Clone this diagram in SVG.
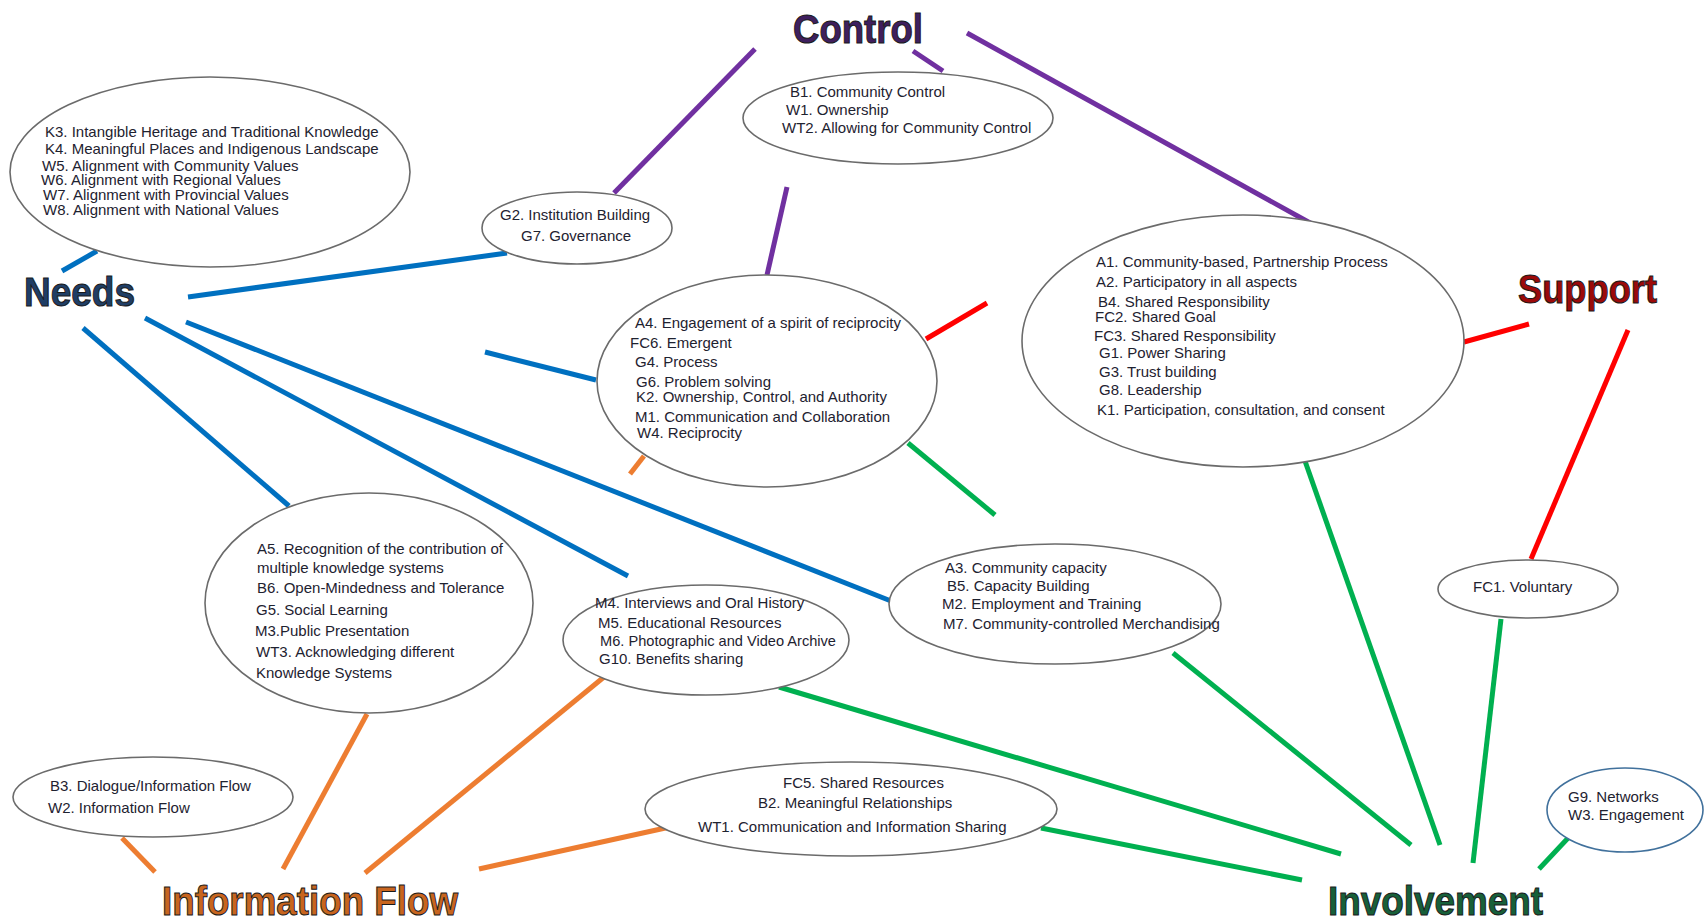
<svg xmlns="http://www.w3.org/2000/svg" width="1704" height="921" viewBox="0 0 1704 921">
<style>
.bg{fill:#ffffff}
.node ellipse{fill:#ffffff;stroke:#6b6b6b;stroke-width:1.6}
.node text{font-family:"Liberation Sans",Arial,sans-serif;font-size:15px;fill:#1e2230}
.title{font-family:"Liberation Sans",Arial,sans-serif;font-weight:bold;font-size:40px;stroke:#1a1a1a;stroke-width:1}
.c line{stroke-width:5;stroke-linecap:butt}
.pu{stroke:#7030a0}.bl{stroke:#0070c0}.rd{stroke:#ff0000}.or{stroke:#ed7d31}.gr{stroke:#00b050}
</style>
<rect class="bg" x="0" y="0" width="1704" height="921"/>
<g id="connectors" class="c">
<line class="pu" x1="755" y1="49" x2="614" y2="193"/>
<line class="pu" x1="913" y1="51" x2="943" y2="71"/>
<line class="pu" x1="967" y1="33" x2="1312" y2="224"/>
<line class="pu" x1="787" y1="187" x2="767" y2="275"/>
<line class="bl" x1="62" y1="271" x2="97" y2="251"/>
<line class="bl" x1="188" y1="297" x2="507" y2="253"/>
<line class="bl" x1="83" y1="328" x2="289" y2="506"/>
<line class="bl" x1="145" y1="318" x2="628" y2="576"/>
<line class="bl" x1="186" y1="322" x2="891" y2="601"/>
<line class="bl" x1="485" y1="352" x2="596" y2="380"/>
<line class="rd" x1="926" y1="339" x2="987" y2="303"/>
<line class="rd" x1="1464" y1="342" x2="1529" y2="324"/>
<line class="rd" x1="1628" y1="330" x2="1531" y2="559"/>
<line class="or" x1="630" y1="474" x2="644" y2="456"/>
<line class="or" x1="367" y1="714" x2="283" y2="869"/>
<line class="or" x1="604" y1="677" x2="365" y2="873"/>
<line class="or" x1="122" y1="838" x2="155" y2="872"/>
<line class="or" x1="670" y1="827" x2="479" y2="869"/>
<line class="gr" x1="908" y1="443" x2="995" y2="515"/>
<line class="gr" x1="779" y1="687" x2="1341" y2="854"/>
<line class="gr" x1="1041" y1="828" x2="1302" y2="880"/>
<line class="gr" x1="1173" y1="653" x2="1411" y2="845"/>
<line class="gr" x1="1305" y1="461" x2="1440" y2="845"/>
<line class="gr" x1="1501" y1="619" x2="1473" y2="863"/>
<line class="gr" x1="1569" y1="837" x2="1539" y2="869"/>
</g>
<g id="control-title"><text class="title" x="793" y="43" textLength="130" lengthAdjust="spacingAndGlyphs" fill="#3f1f5e">Control</text></g>
<g id="needs-title"><text class="title" x="24" y="306" textLength="111" lengthAdjust="spacingAndGlyphs" fill="#1f3e66">Needs</text></g>
<g id="support-title"><text class="title" x="1518" y="303" textLength="139" lengthAdjust="spacingAndGlyphs" fill="#9c0a0a">Support</text></g>
<g id="infoflow-title"><text class="title" x="162" y="915" textLength="296" lengthAdjust="spacingAndGlyphs" fill="#c8651f">Information Flow</text></g>
<g id="involvement-title"><text class="title" x="1328" y="915" textLength="215" lengthAdjust="spacingAndGlyphs" fill="#17603a">Involvement</text></g>
<g id="node-k3" class="node">
<ellipse cx="210" cy="172" rx="200" ry="95"/>
<text x="45" y="137">K3. Intangible Heritage and Traditional Knowledge</text>
<text x="45" y="154">K4. Meaningful Places and Indigenous Landscape</text>
<text x="42" y="171">W5. Alignment with Community Values</text>
<text x="41" y="185">W6. Alignment with Regional Values</text>
<text x="43" y="200">W7. Alignment with Provincial Values</text>
<text x="43" y="215">W8. Alignment with National Values</text>
</g>
<g id="node-b1" class="node">
<ellipse cx="898" cy="118" rx="155" ry="46"/>
<text x="790" y="97">B1. Community Control</text>
<text x="786" y="115">W1. Ownership</text>
<text x="782" y="133">WT2. Allowing for Community Control</text>
</g>
<g id="node-g2" class="node">
<ellipse cx="577" cy="228" rx="95" ry="36"/>
<text x="500" y="220">G2. Institution Building</text>
<text x="521" y="241">G7. Governance</text>
</g>
<g id="node-a4" class="node">
<ellipse cx="767" cy="381" rx="170" ry="106"/>
<text x="635" y="328">A4. Engagement of a spirit of reciprocity</text>
<text x="630" y="348">FC6. Emergent</text>
<text x="635" y="367">G4. Process</text>
<text x="636" y="387">G6. Problem solving</text>
<text x="636" y="402">K2. Ownership, Control, and Authority</text>
<text x="635" y="422">M1. Communication and Collaboration</text>
<text x="637" y="438">W4. Reciprocity</text>
</g>
<g id="node-a1" class="node">
<ellipse cx="1243" cy="341" rx="221" ry="126"/>
<text x="1096" y="267">A1. Community-based, Partnership Process</text>
<text x="1096" y="287">A2. Participatory in all aspects</text>
<text x="1098" y="307">B4. Shared Responsibility</text>
<text x="1095" y="322">FC2. Shared Goal</text>
<text x="1094" y="341">FC3. Shared Responsibility</text>
<text x="1099" y="358">G1. Power Sharing</text>
<text x="1099" y="377">G3. Trust building</text>
<text x="1099" y="395">G8. Leadership</text>
<text x="1097" y="415">K1. Participation, consultation, and consent</text>
</g>
<g id="node-a5" class="node">
<ellipse cx="369" cy="603" rx="164" ry="110"/>
<text x="257" y="554">A5. Recognition of the contribution of</text>
<text x="257" y="573">multiple knowledge systems</text>
<text x="257" y="593">B6. Open-Mindedness and Tolerance</text>
<text x="256" y="615">G5. Social Learning</text>
<text x="255" y="636">M3.Public Presentation</text>
<text x="256" y="657">WT3. Acknowledging different</text>
<text x="256" y="678">Knowledge Systems</text>
</g>
<g id="node-m4" class="node">
<ellipse cx="706" cy="640" rx="143" ry="55"/>
<text x="595" y="608">M4. Interviews and Oral History</text>
<text x="598" y="628">M5. Educational Resources</text>
<text x="600" y="646" textLength="236" lengthAdjust="spacingAndGlyphs">M6. Photographic and Video Archive</text>
<text x="599" y="664">G10. Benefits sharing</text>
</g>
<g id="node-a3" class="node">
<ellipse cx="1055" cy="604" rx="166" ry="60"/>
<text x="945" y="573">A3. Community capacity</text>
<text x="947" y="591">B5. Capacity Building</text>
<text x="942" y="609">M2. Employment and Training</text>
<text x="943" y="629">M7. Community-controlled Merchandising</text>
</g>
<g id="node-b3" class="node">
<ellipse cx="153" cy="797" rx="140" ry="40"/>
<text x="50" y="791">B3. Dialogue/Information Flow</text>
<text x="48" y="813">W2. Information Flow</text>
</g>
<g id="node-fc5" class="node">
<ellipse cx="851" cy="809" rx="206" ry="47"/>
<text x="783" y="788">FC5. Shared Resources</text>
<text x="758" y="808">B2. Meaningful Relationships</text>
<text x="698" y="832">WT1. Communication and Information Sharing</text>
</g>
<g id="node-fc1" class="node">
<ellipse cx="1528" cy="589" rx="90" ry="29"/>
<text x="1473" y="592">FC1. Voluntary</text>
</g>
<g id="node-g9" class="node">
<ellipse cx="1625" cy="810" rx="78" ry="42" style="stroke:#41719c"/>
<text x="1568" y="802">G9. Networks</text>
<text x="1568" y="820">W3. Engagement</text>
</g>
</svg>
